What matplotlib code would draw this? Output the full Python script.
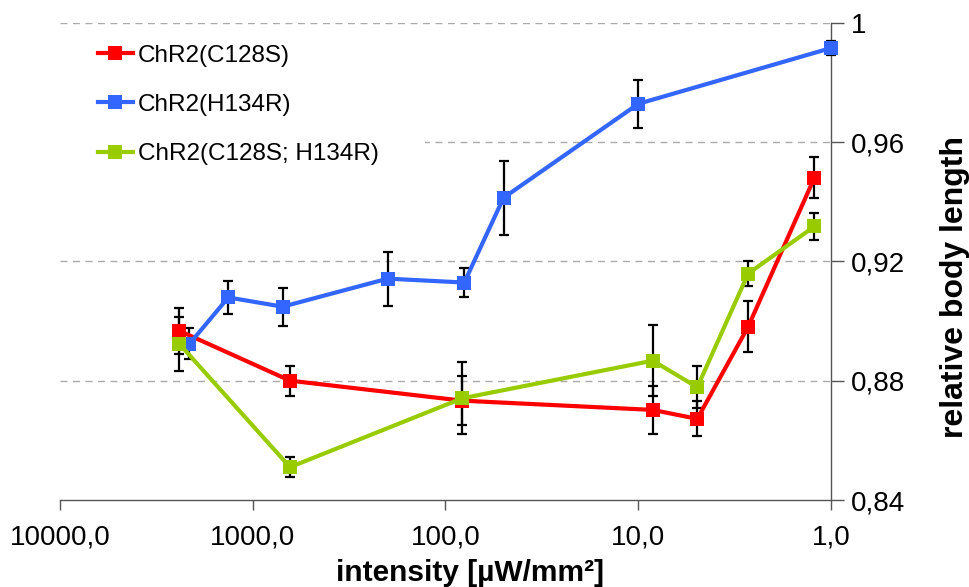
import matplotlib
matplotlib.use("Agg")
import matplotlib.pyplot as plt
from matplotlib.patches import Rectangle
from matplotlib.ticker import FixedLocator, FuncFormatter, NullLocator

plt.rcParams['font.family'] = ['Liberation Sans', 'DejaVu Sans']

# ---- data ----
series_names = ["ChR2(C128S)", "ChR2(H134R)", "ChR2(C128S; H134R)"]

x_c128s = [2400, 641, 81.8, 8.41, 4.94, 2.69, 1.22]
y_c128s = [0.8967, 0.8800, 0.8733, 0.8702, 0.8672, 0.8981, 0.9480]
e_c128s = [0.0076, 0.0050, 0.0082, 0.0080, 0.0059, 0.0086, 0.0069]

x_h134r = [2133, 1339, 700, 199.5, 79.9, 50, 10, 1.0]
y_h134r = [0.8923, 0.9079, 0.9048, 0.9142, 0.9129, 0.9413, 0.9728, 0.9915]
e_h134r = [0.0052, 0.0056, 0.0064, 0.0090, 0.0049, 0.0124, 0.0080, 0.0024]

x_both = [2400, 641, 81.8, 8.41, 4.94, 2.69, 1.22]
y_both = [0.8923, 0.8510, 0.8741, 0.8867, 0.8778, 0.9159, 0.9317]
e_both = [0.0089, 0.0034, 0.0120, 0.0120, 0.0070, 0.0043, 0.0044]

x_ticks = [10000, 1000, 100, 10, 1]
y_ticks = [0.84, 0.88, 0.92, 0.96, 1.0]
grid_levels = [0.88, 0.92, 0.96, 1.0]

colors = ["#FF0000", "#3366FF", "#99CC00"]

# ---- figure ----
fig = plt.figure(figsize=(9.7, 5.87), dpi=100)
ax = fig.add_axes([60/970, 1 - 500/587, (831-60)/970, (500-22.7)/587])

ax.set_xscale('log')
ax.set_xlim(10000, 1)
ax.set_ylim(0.84, 1.0)

# gridlines
for g in grid_levels:
    ax.axhline(g, color='#AAAAAA', lw=1.0, ls=(0, (5, 4)), zorder=0.5)

# white area behind legend (covers gridline like the original legend box)
ax.add_patch(Rectangle((0, 0.66), 0.473, 0.32, transform=ax.transAxes,
                       facecolor='white', edgecolor='none', zorder=1))

data = [(x_c128s, y_c128s, e_c128s), (x_h134r, y_h134r, e_h134r), (x_both, y_both, e_both)]

# error bars first
for (xs, ys, es) in data:
    eb = ax.errorbar(xs, ys, yerr=es, fmt='none', ecolor='black', elinewidth=1.6,
                     capsize=3.8, capthick=1.6, zorder=2)
    for art in eb.lines[1] + eb.lines[2]:
        art.set_clip_on(False)

handles = []
for i, (xs, ys, es) in enumerate(data):
    h, = ax.plot(xs, ys, color=colors[i], lw=3.0, marker='s', markersize=9.5,
                 markeredgewidth=0, label=series_names[i], zorder=3 + i,
                 clip_on=False)
    handles.append(h)

# axes styling
ax.spines['left'].set_visible(False)
ax.spines['top'].set_visible(False)
ax.spines['right'].set_color('#555555')
ax.spines['bottom'].set_color('#555555')
ax.spines['right'].set_linewidth(1.0)
ax.spines['bottom'].set_linewidth(1.0)
ax.spines['right'].set_zorder(1.5)

ax.yaxis.tick_right()
ax.yaxis.set_major_locator(FixedLocator(y_ticks))
ax.yaxis.set_minor_locator(NullLocator())
ax.yaxis.set_major_formatter(FuncFormatter(
    lambda v, p: ("%g" % round(v, 2)).replace('.', ',')))
ax.tick_params(axis='y', which='major', direction='out', length=9, width=1.0,
               color='#555555', labelsize=20, pad=5)

ax.xaxis.set_major_locator(FixedLocator(x_ticks))
ax.xaxis.set_minor_locator(NullLocator())
ax.xaxis.set_major_formatter(FuncFormatter(lambda v, p: ("%.1f" % v).replace('.', ',')))
ax.tick_params(axis='x', which='major', direction='out', length=7, width=1.0,
               color='#555555', labelsize=20, pad=11)

fig.text(470/970, 1 - 573/587, "intensity [µW/mm²]", ha='center', va='center',
         fontsize=21.5, fontweight='bold')
fig.text(955/970, 1 - 287/587, "relative body length", ha='center', va='center',
         rotation=90, fontsize=23, fontweight='bold')

leg = ax.legend(handles=handles, loc='upper left',
                bbox_to_anchor=(88/970, 1 - 35/587), bbox_transform=fig.transFigure,
                frameon=False, fontsize=17.5, handlelength=1.44, handletextpad=0.2,
                labelspacing=1.12, borderpad=0.4, borderaxespad=0)
leg.set_zorder(10)

fig.savefig("out.png", dpi=100)
